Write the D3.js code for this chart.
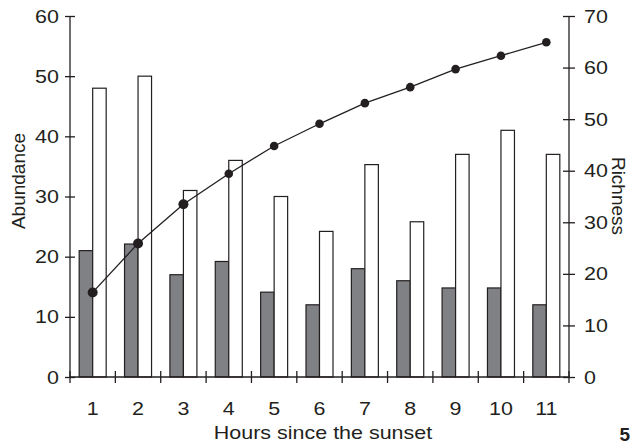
<!DOCTYPE html>
<html>
<head>
<meta charset="utf-8">
<script src="https://cdn.jsdelivr.net/npm/d3@7"></script>
<style>
  body { margin: 0; background: #fff; }
</style>
</head>
<body>
<div id="chart"></div>
<script>
// Data
var hours = ['1', '2', '3', '4', '5', '6', '7', '8', '9', '10', '11'];
var abundanceDark = [21, 22.1, 17, 19.2, 14.1, 12, 18, 16, 14.8, 14.8, 12];
var abundanceLight = [48, 50, 31, 36, 30, 24.2, 35.3, 25.8, 37, 41, 37];
var richness = [16.4, 25.9, 33.5, 39.4, 44.8, 49.1, 53.1, 56.2, 59.7, 62.3, 64.9];
var leftTicks = [0, 10, 20, 30, 40, 50, 60];
var rightTicks = [0, 10, 20, 30, 40, 50, 60, 70];

var width = 632, height = 445;
var margin = { top: 16, right: 63, bottom: 68, left: 70 };
var ink = '#231f20';
var stretch = 'scale(1.13,1)'; // the scanned figure is slightly wider than tall

var svg = d3.select('#chart').append('svg')
    .attr('width', width)
    .attr('height', height)
    .attr('font-family', 'Liberation Sans, Arial, sans-serif');

var x = d3.scaleBand()
    .domain(hours)
    .range([margin.left, width - margin.right]);

var yL = d3.scaleLinear().domain([0, 60]).range([height - margin.bottom, margin.top]);
var yR = d3.scaleLinear().domain([0, 70]).range([height - margin.bottom, margin.top]);

var barW = 13.5;

// dark bars
svg.append('g').selectAll('rect')
    .data(abundanceDark)
    .enter().append('rect')
    .attr('x', (d, i) => x(hours[i]) + x.bandwidth() / 2 - barW)
    .attr('y', d => yL(d))
    .attr('width', barW)
    .attr('height', d => yL(0) - yL(d))
    .attr('fill', '#808184')
    .attr('stroke', ink)
    .attr('stroke-width', 1.2);

// white bars
svg.append('g').selectAll('rect')
    .data(abundanceLight)
    .enter().append('rect')
    .attr('x', (d, i) => x(hours[i]) + x.bandwidth() / 2)
    .attr('y', d => yL(d))
    .attr('width', barW)
    .attr('height', d => yL(0) - yL(d))
    .attr('fill', '#fff')
    .attr('stroke', ink)
    .attr('stroke-width', 1.2);

// richness line
var line = d3.line()
    .x((d, i) => x(hours[i]) + x.bandwidth() / 2)
    .y(d => yR(d));

svg.append('path')
    .datum(richness)
    .attr('d', line)
    .attr('fill', 'none')
    .attr('stroke', ink)
    .attr('stroke-width', 1.3);

svg.append('g').selectAll('circle')
    .data(richness)
    .enter().append('circle')
    .attr('cx', (d, i) => x(hours[i]) + x.bandwidth() / 2)
    .attr('cy', d => yR(d))
    .attr('r', (d, i) => i < 3 ? 5 : 4.3)
    .attr('fill', ink);

// axes
var leftAxis = svg.append('g')
    .attr('transform', 'translate(' + margin.left + ',0)')
    .call(d3.axisLeft(yL).tickValues(leftTicks).tickSize(5));

var rightAxis = svg.append('g')
    .attr('transform', 'translate(' + (width - margin.right) + ',0)')
    .call(d3.axisRight(yR).tickValues(rightTicks).tickSize(6));

// bottom axis: ticks at band edges, labels at centers
var edges = hours.map(h => x(h)).concat([width - margin.right]);
var bottom = svg.append('g');
bottom.append('line')
    .attr('x1', margin.left).attr('x2', width - margin.right)
    .attr('y1', yL(0)).attr('y2', yL(0))
    .attr('stroke', ink).attr('stroke-width', 1.3);
bottom.selectAll('.edge')
    .data(edges)
    .enter().append('line')
    .attr('x1', d => d).attr('x2', d => d)
    .attr('y1', yL(0) - 6).attr('y2', yL(0) + 6)
    .attr('stroke', ink).attr('stroke-width', 1.3);
bottom.selectAll('text')
    .data(hours)
    .enter().append('text')
    .attr('transform', d => 'translate(' + (x(d) + x.bandwidth() / 2) + ',415) ' + stretch)
    .attr('text-anchor', 'middle')
    .style('font-size', '19px')
    .style('fill', ink)
    .text(d => d);

// crossing ticks on y axes
leftAxis.selectAll('.tick line').attr('x1', 5);
rightAxis.selectAll('.tick line').attr('x1', -6);

[leftAxis, rightAxis].forEach(a => {
    a.select('.domain').attr('stroke', ink).attr('stroke-width', 1.3);
    a.selectAll('.tick line').attr('stroke', ink).attr('stroke-width', 1.3);
    a.selectAll('.tick text')
        .attr('x', 0)
        .style('font-size', '19px')
        .style('font-family', 'Liberation Sans, Arial, sans-serif')
        .style('fill', ink);
});
leftAxis.selectAll('.tick text').attr('transform', 'translate(-11,0) ' + stretch);
rightAxis.selectAll('.tick text').attr('transform', 'translate(15,0) ' + stretch);
leftAxis.select('.domain').attr('d', 'M0,' + yL(60) + 'V' + yL(0));
rightAxis.select('.domain').attr('d', 'M0,' + yR(70) + 'V' + yR(0));

// titles
svg.append('text')
    .attr('transform', 'translate(25,181) rotate(-90)')
    .attr('text-anchor', 'middle')
    .style('font-size', '19px')
    .style('fill', ink)
    .text('Abundance');

svg.append('text')
    .attr('transform', 'translate(612,196) rotate(90)')
    .attr('text-anchor', 'middle')
    .style('font-size', '19px')
    .style('fill', ink)
    .text('Richness');

svg.append('text')
    .attr('transform', 'translate(323,439) ' + stretch)
    .attr('text-anchor', 'middle')
    .style('font-size', '19px')
    .style('fill', ink)
    .text('Hours since the sunset');

svg.append('text')
    .attr('x', 630)
    .attr('y', 441)
    .attr('text-anchor', 'end')
    .style('font-size', '19px')
    .style('font-weight', 700)
    .style('fill', ink)
    .text('5');
</script>
</body>
</html>
